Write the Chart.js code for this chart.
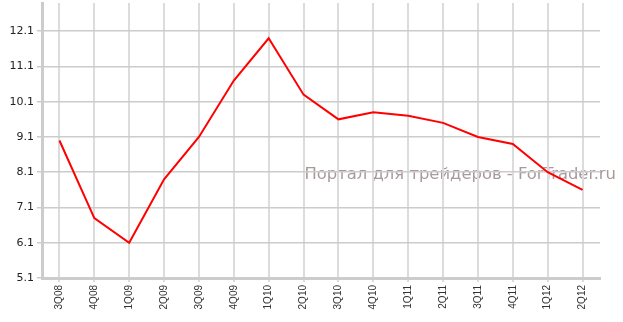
<!DOCTYPE html>
<html>
<head>
<meta charset="utf-8">
<script src="https://cdn.jsdelivr.net/npm/chart.js@4"></script>
<style>
html,body{margin:0;padding:0;background:#fff;}
#wrap{width:623px;height:322px;position:relative;}
</style>
</head>
<body>
<div id="wrap"><canvas id="c" width="623" height="322"></canvas></div>
<script>
const categories = ["3Q08","4Q08","1Q09","2Q09","3Q09","4Q09","1Q10","2Q10","3Q10","4Q10","1Q11","2Q11","3Q11","4Q11","1Q12","2Q12"];
const values = [9.0, 6.8, 6.1, 7.9, 9.1, 10.7, 11.9, 10.3, 9.6, 9.8, 9.7, 9.5, 9.1, 8.9, 8.1, 7.6];
const yTicks = [5.1, 6.1, 7.1, 8.1, 9.1, 10.1, 11.1, 12.1];
const watermark = "Портал для трейдеров - ForTrader.ru";

const watermarkPlugin = {
  id: 'wm',
  beforeDraw(chart) {
    const ctx = chart.ctx;
    ctx.save();
    ctx.font = '16.4px "DejaVu Sans", Verdana, sans-serif';
    ctx.fillStyle = '#a89a9a';
    ctx.textAlign = 'right';
    ctx.textBaseline = 'alphabetic';
    ctx.fillText(watermark, 616, 179);
    ctx.restore();
  }
};

new Chart(document.getElementById('c'), {
  type: 'line',
  data: {
    labels: categories,
    datasets: [{
      data: values,
      borderColor: '#ff0000',
      borderWidth: 2,
      pointRadius: 0,
      tension: 0,
      fill: false
    }]
  },
  options: {
    responsive: false,
    animation: false,
    layout: { padding: { left: 0, right: 23, top: 3, bottom: 0 } },
    plugins: { legend: { display: false }, tooltip: { enabled: false } },
    scales: {
      x: {
        type: 'category',
        offset: true,
        afterFit(scale) { scale.height = 44; scale.paddingLeft = 0; scale.paddingRight = 0; },
        grid: { offset: false, color: '#dcdcdc', lineWidth: 2, tickLength: 4, drawTicks: true },
        border: { color: '#cccccc', width: 3 },
        ticks: {
          minRotation: 90, maxRotation: 90, autoSkip: false,
          color: '#333', padding: 3,
          font: { family: '"Liberation Sans", Arial, sans-serif', size: 10 }
        }
      },
      y: {
        type: 'linear',
        min: 5.1,
        max: 12.9,
        afterFit(scale) { scale.width = 42; scale.paddingTop = 0; scale.paddingBottom = 0; },
        afterBuildTicks(scale) { scale.ticks = yTicks.map(v => ({ value: v })); },
        grid: { color: '#cccccc', lineWidth: 1.5, tickLength: 5 },
        border: { color: '#cccccc', width: 3 },
        ticks: {
          color: '#222', padding: 3,
          font: { family: '"DejaVu Sans", Verdana, sans-serif', size: 11 },
          callback: v => v.toFixed(1)
        }
      }
    }
  },
  plugins: [watermarkPlugin]
});
</script>
</body>
</html>
